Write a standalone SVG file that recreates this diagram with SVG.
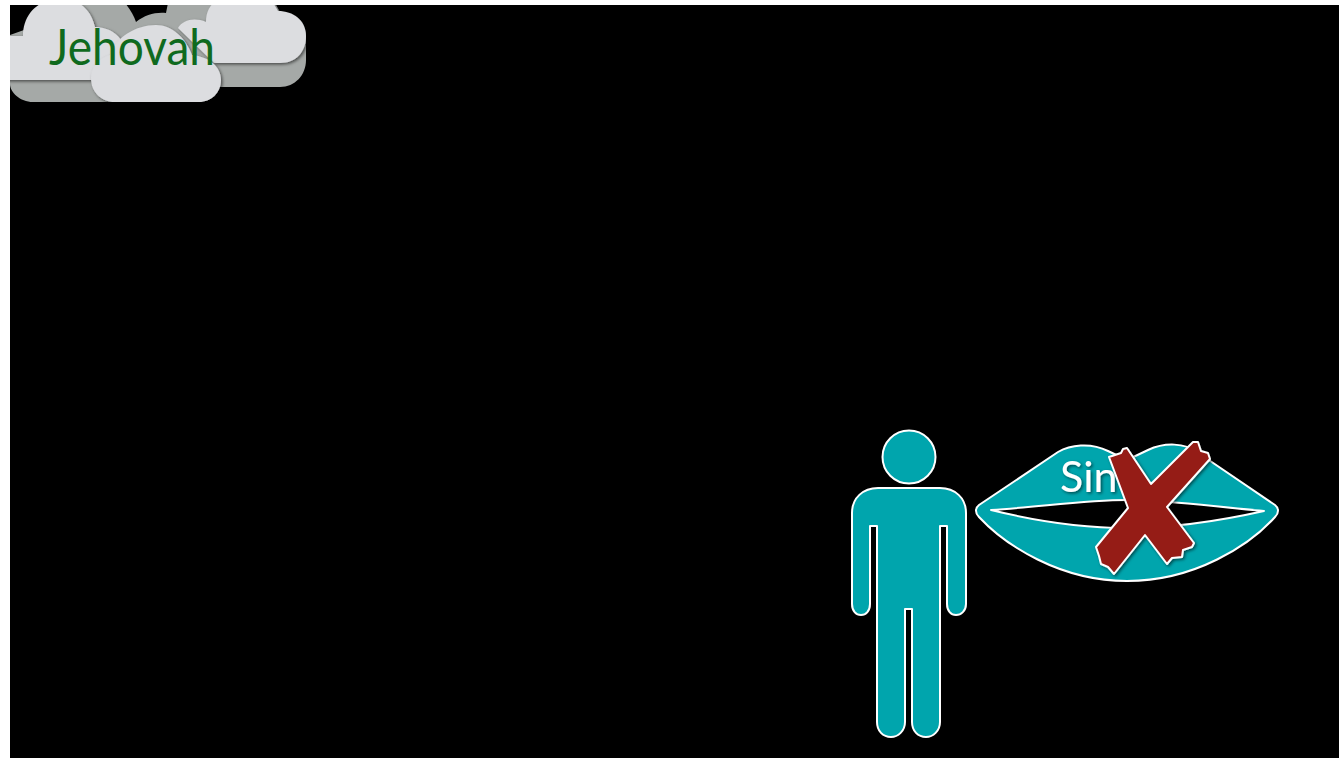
<svg xmlns="http://www.w3.org/2000/svg" width="1339" height="758" viewBox="0 0 1339 758">
<defs>
<clipPath id="c"><rect x="10" y="5" width="1329" height="753"/></clipPath>
<filter id="sh" x="-20%" y="-20%" width="140%" height="140%"><feDropShadow dx="1.5" dy="1.5" stdDeviation="1.5" flood-color="#000" flood-opacity=".55"/></filter>
</defs>
<style>
.back{fill:#a5a9a7}
.front{fill:#dcdde0;filter:url(#sh)}
.teal{fill:#00a5ad;stroke:#fff;stroke-width:2;stroke-linejoin:round}
text{font-family:"Lato","Open Sans",sans-serif}
</style>
<rect width="1339" height="758" fill="#fff"/>
<rect x="10" y="5" width="1329" height="753" fill="#000"/>
<g id="jehovah-cloud" clip-path="url(#c)">
<path class="back" d="M10 35L24 30C28 15 38 5 50 3H125C130 9 134 16 136 22C145 15 155 12 166 13L168 3H275L280 12C295 12 306 24 306 37V60C306 75 295 87 280 87H200V102H33C20 102 10 92 10 84Z"/>
<path class="front" d="M0 36H23C23 18 34 3 50 1H72C84 3 92 14 95 27C110 27 122 36 126 50L140 80H0Z"/>
<path class="front" d="M178 28C183 20 194 17 206 22C206 12 210 5 216 1H272L278 11C293 11 306 20 306 36C306 52 296 63 280 63H214Z"/>
<path class="front" d="M91 78C91 68 98 58 110 55C116 37 136 25 156 25C172 25 186 38 192 55C210 57 221 67 221 80C221 93 211 102 199 102H115C101 102 91 92 91 78Z"/>
<text id="jehovah-label" x="49" y="65" font-size="50" textLength="166" lengthAdjust="spacingAndGlyphs" fill="#0f6a1e">Jehovah</text>
</g>
<g id="person">
<circle class="teal" cx="909" cy="457" r="26.5"/>
<path class="teal" d="M878 488H940C955 488 966 498 966 513V604C966 611 961 615 956 615C951 615 947 611 947 604V526H940V722C940 731 933 737 926 737C918 737 912 731 912 722V609H905V722C905 731 898 737 891 737C883 737 877 731 877 722V526H870V604C870 611 866 615 861 615C856 615 852 611 852 604V513C852 498 863 488 878 488Z"/>
</g>
<g id="lips">
<path class="teal" d="M979 505L1058 452C1070 445 1090 442 1108 451L1127 460L1148 450C1165 442 1185 443 1197 452L1275 505C1279 508 1279 513 1275 517C1250 545 1195 581 1127 581C1060 581 1005 545 979 517C975 513 975 508 979 505Z"/>
<path d="M991 510C1040 507 1085 500 1127 500C1170 500 1215 507 1264 511C1215 522 1170 528 1127 528C1085 528 1040 522 991 510Z" fill="#000" stroke="#fff" stroke-width="2" stroke-linejoin="round"/>
<text id="lips-label" x="1060" y="492" font-size="43" fill="#fff" filter="url(#sh)">Sin</text>
<path id="cross" filter="url(#sh)" fill="#951a17" stroke="#fff" stroke-width="2" stroke-linejoin="round" d="M1109 457L1121 453L1123 449L1127 448L1151 484L1193 442L1198 442L1201 451L1208 453L1210 459L1167 507L1194 543L1192 547L1183 550L1182 557L1172 558L1167 564L1145 535L1114 574L1108 567L1101 564L1099 556L1096 547L1128 508Z"/>
</g>
<g id="connectors"/>
</svg>
